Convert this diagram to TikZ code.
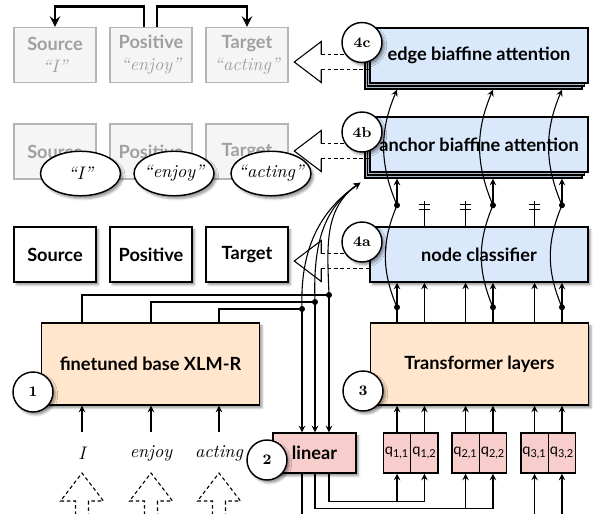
\documentclass[tikz,border=0pt]{standalone}
\usepackage{fontspec}
\setsansfont{Lato}
\usetikzlibrary{positioning,calc,shapes.geometric,shadows,shadows.blur}

\definecolor{headblue}{HTML}{DAE8FC}
\definecolor{stackblue}{HTML}{ABB7CA}
\definecolor{encorange}{HTML}{FFE6CC}
\definecolor{linred}{HTML}{F8CECC}
\definecolor{fadefill}{HTML}{F5F5F5}
\definecolor{fadedraw}{HTML}{B5B5B5}
\definecolor{fadetext}{HTML}{A0A0A0}

\begin{document}
\begin{tikzpicture}[x=0.55pt,y=-0.55pt,>=stealth]

	\tikzstyle{softshadow}=[blur shadow={shadow xshift=1.4pt,shadow yshift=-1.6pt,
		shadow blur radius=1.2pt}]
	\tikzstyle{role}=[fill=white,draw=black,thick,softshadow,
		minimum width=45.1pt,minimum height=30.25pt,
		node distance=52.8pt,font=\sffamily\bfseries]
	\tikzstyle{faded}=[fill=fadefill,draw=fadedraw,thick,text=fadetext,
		minimum width=45.1pt,minimum height=30.25pt,
		node distance=52.8pt,font=\sffamily\bfseries,align=center]
	\tikzstyle{head}=[fill=headblue,draw=black,thick,
		minimum width=119.9pt,minimum height=30.25pt,
		font=\sffamily\bfseries]
	\tikzstyle{stackcopy}=[fill=stackblue,draw=black,semithick]
	\tikzstyle{encoder}=[fill=encorange,draw=black,thick,softshadow,
		minimum width=119.9pt,minimum height=45.1pt,
		font=\sffamily\bfseries]
	\tikzstyle{lin}=[fill=linred,draw=black,thick,softshadow,
		minimum width=45.65pt,minimum height=22pt,
		font=\sffamily\bfseries]
	\tikzstyle{query}=[fill=linred,draw=black,thick,
		minimum width=15.1pt,minimum height=22pt,inner sep=0pt,
		node distance=15.1pt,font=\sffamily\footnotesize]
	\tikzstyle{num}=[circle,fill=white,draw=black,thick,softshadow,
		minimum size=22pt,inner sep=0pt,font=\footnotesize\bfseries]
	\tikzstyle{quoted}=[ellipse,fill=white,draw=black,thick,softshadow,
		minimum width=44pt,minimum height=24.5pt,inner xsep=-3pt,inner ysep=0pt,
		font=\itshape]
	\tikzstyle{word}=[font=\itshape,minimum height=23pt]
	\tikzstyle{arr}=[semithick,->]
	\tikzstyle{dot}=[circle,fill=black,inner sep=0pt,minimum size=3.3pt]

	\useasboundingbox (0,0) rectangle (594,513);

	% faded rows
	\node[faded]			(src1) at (55,55)	{Source\\{\rmfamily\mdseries\itshape ``I''}};
	\node[faded,right of=src1]	(pos1)	{Positive\\{\rmfamily\mdseries\itshape ``enjoy''}};
	\node[faded,right of=pos1]	(tgt1)	{Target\\{\rmfamily\mdseries\itshape ``acting''}};
	\node[faded]			(src2) at (55,151.5)	{Source};
	\node[faded,right of=src2]	(pos2)	{Positive};
	\node[faded,right of=pos2]	(tgt2)	{Target};
	\node[role]			(src3) at (55,254.5)	{Source};
	\node[role,right of=src3]	(pos3)	{Positive};
	\node[role,right of=pos3]	(tgt3)	{Target};

	% stacked copies behind the two attention heads
	\foreach \cy in {55.5,144.5}{
		\draw[stackcopy] (365,\cy-21.5) rectangle ++(217,55);
		\draw[stackcopy] (367.5,\cy-24.5) rectangle ++(217,55);
	}

	% heads and encoders
	\node[head]		(edge) at (479,55.5)	{edge biaffine attention};
	\node[head]		(anchor) at (479,144.5)	{anchor biaffine attention};
	\node[head,softshadow]	(ncls) at (479,254.5)	{node classifier};
	\node[encoder]		(trf) at (479.5,364)	{Transformer layers};
	\node[encoder]		(xlmr) at (150.5,364)	{finetuned base XLM-R};
	\node[lin]		(lin) at (314.5,453)	{linear};

	\node[query]			(q11) at (397,453)	{q\textsubscript{1,1}};
	\node[query,right of=q11]	(q12)	{q\textsubscript{1,2}};
	\node[query]			(q21) at (465.5,453)	{q\textsubscript{2,1}};
	\node[query,right of=q21]	(q22)	{q\textsubscript{2,2}};
	\node[query]			(q31) at (534.5,453)	{q\textsubscript{3,1}};
	\node[query,right of=q31]	(q32)	{q\textsubscript{3,2}};

	\node[word]	(w1) at (82,453)	{I};
	\node[word]	(w2) at (151,453)	{enjoy};
	\node[word]	(w3) at (219,453)	{acting};

	% hollow arrows
	\foreach \b in {edge,anchor,ncls}{
		\draw[semithick,fill=white] ($(\b.west)+(-48,-1)$) -- ++(0,-13)
			-- ++(-27,20.5) -- ++(27,20.5) -- ++(0,-13);
		\draw[semithick,dash pattern=on 2pt off 1.5pt]
			($(\b.west)+(-48,-1)$) -- ++(48,0)
			($(\b.west)+(-48,14)$) -- ++(48,0);
	}
	\foreach \w in {w1,w2,w3}{
		\draw[semithick,dash pattern=on 2pt off 1.5pt] ($(\w)+(-6.5,62)$) -- ++(0,-14)
			-- ++(-15,0) -- ++(21.5,-28) -- ++(21.5,28) -- ++(-15,0) -- ++(0,14);
	}

	\node[quoted]	(e1) at (80.5,173.5)	{``I''};
	\node[quoted]	(e2) at (174,173.5)	{``enjoy''};
	\node[quoted]	(e3) at (271,173.5)	{``acting''};

	\node[num]	(n4c) at (362,42.5)	{4c};
	\node[num]	(n4b) at (362,132)	{4b};
	\node[num]	(n4a) at (362,242)	{4a};
	\node[num]	(n1) at (33,392)	{1};
	\node[num]	(n2) at (267,460)	{2};
	\node[num]	(n3) at (363,391)	{3};

	% roles
	\draw[line width=1.5pt,->] ($(pos1.north)+(-7,0)$) -- ++(0,-20) -| (src1.north);
	\draw[line width=1.5pt,->] ($(pos1.north)+(6,0)$) -- ++(0,-20) -| (tgt1.north);

	% encoder side
	\foreach \w in {w1,w2,w3}
		\draw[arr] (\w) -- (\w |- xlmr.south);
	\coordinate (jA) at (329,295);
	\coordinate (jB) at (315,302);
	\coordinate (jC) at (302,309);
	\coordinate (ancin) at ($(anchor.south west)+(-9,10)$);
	\draw[semithick] (w1 |- xlmr.north) |- (jA);
	\draw[semithick] (w2 |- xlmr.north) |- (jB);
	\draw[semithick] (w3 |- xlmr.north) |- (jC);
	\foreach \j in {jA,jB,jC}{
		\draw[arr] (\j) -- (\j |- lin.north);
		\draw[arr] (\j) to[out=92,in=215] (ancin);
		\node[dot] at (\j) {};
	}

	% queries
	\draw[arr] (jA |- lin.south) |- ($(q12.south)+(0,28)$) -- (q12.south);
	\draw[arr] ($(q11.south)+(0,28)$) -- (q11.south);
	\draw[arr] (jB |- lin.south) |- ($(q22.south)+(0,35)$) -- (q22.south);
	\draw[arr] ($(q21.south)+(0,35)$) -- (q21.south);
	\draw[semithick] (jC |- lin.south) -- ++(0,50);
	\draw[arr] ($(q31.south)+(0,50)$) -- (q31.south);
	\draw[arr] ($(q32.south)+(0,50)$) -- (q32.south);
	\foreach \q in {q11,q12,q21,q22,q31,q32}
		\draw[arr] (\q.north) -- (\q.north |- trf.south);

	% transformer outputs
	\foreach \q in {q12,q21,q31}{
		\draw[arr] (\q |- trf.north) -- (\q |- ncls.south);
		\draw[semithick] (\q |- ncls.north) -- ++(0,-25);
		\draw[semithick] ($(\q |- ncls.north)+(-5.5,-17)$) -- ++(11,0)
			($(\q |- ncls.north)+(-5.5,-22)$) -- ++(11,0);
	}
	\foreach \q in {q11,q22,q32}{
		\coordinate (lo\q) at ($(\q |- trf.north)+(0,-15)$);
		\coordinate (hi\q) at ($(\q |- ncls.north)+(0,-21)$);
		\draw[semithick] (\q |- trf.north) -- (lo\q);
		\draw[arr] (lo\q) -- (\q |- ncls.south);
		\draw[semithick] (lo\q) to[out=113,in=-113] (hi\q);
		\draw[arr] (hi\q) -- ($(\q |- anchor.south)+(0,6)$);
		\draw[arr] (hi\q) to[out=113,in=-113] ($(\q |- edge.south)+(0,6)$);
		\node[dot] at (lo\q) {};
		\node[dot] at (hi\q) {};
	}

\end{tikzpicture}
\end{document}
